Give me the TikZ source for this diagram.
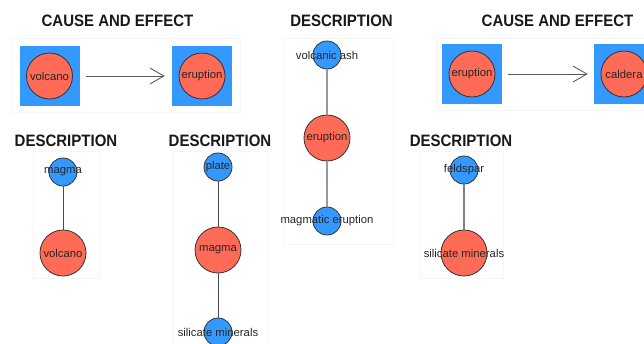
\documentclass[tikz,border=0pt]{standalone}
\usepackage{fontspec}
\setmainfont{Liberation Sans}
\usetikzlibrary{arrows.meta}
\definecolor{nblue}{HTML}{3399FF}
\definecolor{nred}{HTML}{FF6B57}
\definecolor{panel}{HTML}{F6F6F6}
\tikzset{
  ttl/.style={font=\fontsize{15}{16}\selectfont\bfseries, text=black!90, inner sep=0, yscale=1.1},
  lbl/.style={font=\fontsize{11.3}{12}\selectfont, text=black!85, inner sep=0},
  pbox/.style={draw=panel, line width=0.8pt},
  sq/.style={fill=nblue, minimum size=60pt, inner sep=0, draw=none},
  bigc/.style={circle, fill=nred, draw=black!80, line width=0.8pt, minimum size=46pt, inner sep=0},
  smc/.style={circle, fill=nblue, draw=black!80, line width=0.8pt, minimum size=28pt, inner sep=0},
  thinedge/.style={draw=black!70, line width=0.8pt},
  grayedge/.style={draw=black!40, line width=2pt},
  causearrow/.style={draw=black!65, line width=0.9pt, -{Straight Barb[length=14pt,width=16pt]}}
}
\begin{document}
\begin{tikzpicture}[x=1pt,y=-1pt]
\useasboundingbox (0,0) rectangle (644,343);
\clip (0,0) rectangle (644,343);
\fill[white] (0,0) rectangle (644,343);
% panel frames
\draw[pbox] (12,38) rectangle (240,112);
\draw[pbox] (437,38) rectangle (650,110);
\draw[pbox] (283,38) rectangle (393,244);
\draw[pbox] (33,151) rectangle (99,278);
\draw[pbox] (173,151) rectangle (267,350);
\draw[pbox] (420,151) rectangle (503,278);
% titles
\node[ttl] (t1) at (117.5,21) {CAUSE AND EFFECT};
\node[ttl] (t2) at (341.5,21) {DESCRIPTION};
\node[ttl] (t3) at (557.5,21) {CAUSE AND EFFECT};
\node[ttl] (t4) at (66,141) {DESCRIPTION};
\node[ttl] (t5) at (220,141) {DESCRIPTION};
\node[ttl] (t6) at (461,141) {DESCRIPTION};
% cause and effect 1
\node[sq] (s1) at (49.5,76) {};
\node[bigc] (c1) at (s1) {};
\node[lbl] at (c1) {volcano};
\node[sq] (s2) at (202,76) {};
\node[bigc] (c2) at (s2) {};
\node[lbl] at (c2) {eruption};
\draw[causearrow] ([xshift=6pt]s1.east) -- ([xshift=-7pt]s2.west);
% cause and effect 2
\node[sq] (s3) at (472,74) {};
\node[bigc] (c3) at (s3) {};
\node[lbl] at (c3) {eruption};
\node[sq] (s4) at (624,74) {};
\node[bigc] (c4) at (s4) {};
\node[lbl] at (c4) {caldera};
\draw[causearrow] ([xshift=6pt]s3.east) -- ([xshift=-6pt]s4.west);
% description middle
\node[smc] (m1) at (327,55) {};
\node[bigc] (m2) at (327,138) {};
\node[smc] (m3) at (327,221) {};
\draw[grayedge] (m1) -- (m2);
\draw[grayedge] (m2) -- (m3);
\node[lbl] at (m1) {volcanic ash};
\node[lbl] at (m2) {eruption};
\node[lbl] at (m3) {magmatic eruption};
% description bottom-left
\node[smc] (l1) at (63,172) {};
\node[bigc] (l2) at (63,253) {};
\draw[thinedge] (l1) -- (l2);
\node[lbl] at (l1) {magma};
\node[lbl] at (l2) {volcano};
% description bottom-middle
\node[smc] (b1) at (218,167) {};
\node[bigc] (b2) at (218,250) {};
\node[smc] (b3) at (218,332) {};
\draw[thinedge] (b1) -- (b2);
\draw[thinedge] (b2) -- (b3);
\node[lbl] at (b1) {plate};
\node[lbl] at (b2) {magma};
\node[lbl] at (b3) {silicate minerals};
% description bottom-right
\node[smc] (r1) at (464,170) {};
\node[bigc] (r2) at (464,253) {};
\draw[grayedge, line width=1.5pt, draw=black!50] (r1) -- (r2);
\node[lbl] at (r1) {feldspar};
\node[lbl] at (r2) {silicate minerals};
\end{tikzpicture}
\end{document}
